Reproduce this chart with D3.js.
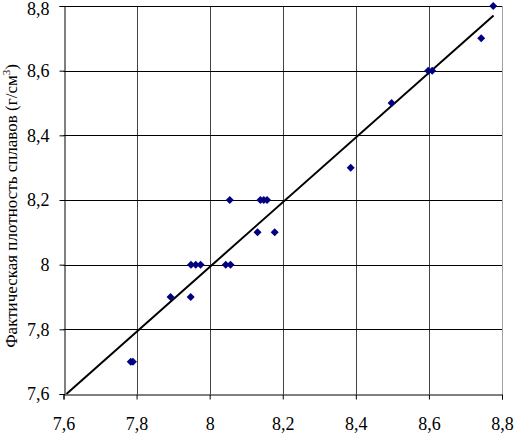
<!DOCTYPE html>
<html><head><meta charset="utf-8">
<script src="https://cdn.jsdelivr.net/npm/d3@7"></script>
<style>body{margin:0;background:#fff}svg{display:block}svg text{font-family:"Times New Roman","Liberation Serif","DejaVu Serif",serif}</style>
</head><body>
<script>
// Data
const calcDensity = [7.784, 7.790, 7.893, 7.948, 7.949, 7.962, 7.975, 8.044, 8.057, 8.131, 8.178, 8.055, 8.139, 8.148, 8.157, 8.386, 8.498, 8.598, 8.609, 8.743, 8.776];
const factDensity = [7.7, 7.7, 7.9, 7.9, 8.0, 8.0, 8.0, 8.0, 8.0, 8.1, 8.1, 8.2, 8.2, 8.2, 8.2, 8.3, 8.5, 8.6, 8.6, 8.7, 8.8];
const trendX = [7.608, 8.777];
const trendY = [7.600, 8.771];
const xTicks = [7.6, 7.8, 8.0, 8.2, 8.4, 8.6, 8.8];
const yTicks = [7.6, 7.8, 8.0, 8.2, 8.4, 8.6, 8.8];
const yTitleMain = "Фактическая плотность сплавов (г/см";
const yTitleSup = "3";
const yTitleEnd = ")";

const W = 515, H = 434;
const m = {left: 63.5, right: 502, top: 6, bottom: 394};
const svg = d3.select("body").append("svg").attr("width", W).attr("height", H);
const x = d3.scaleLinear().domain([7.6, 8.8]).range([m.left, m.right]);
const y = d3.scaleLinear().domain([7.6, 8.8]).range([m.bottom, m.top]);
const fmt = v => d3.format("~g")(+v.toFixed(1)).replace(".", ",");

// vertical gridlines
svg.append("g").selectAll("line").data(xTicks.slice(1)).join("line")
  .attr("x1", d => Math.round(x(d)) + 0.5).attr("x2", d => Math.round(x(d)) + 0.5)
  .attr("y1", m.top).attr("y2", m.bottom)
  .attr("stroke", (d, i, a) => i === a.length - 1 ? "#a0a0a0" : "#444").attr("stroke-width", 1);
// horizontal gridlines
svg.append("g").selectAll("line").data(yTicks.slice(1)).join("line")
  .attr("x1", m.left).attr("x2", m.right)
  .attr("y1", d => Math.round(y(d)) + 0.5).attr("y2", d => Math.round(y(d)) + 0.5)
  .attr("stroke", "#000").attr("stroke-width", 1);

// axes
const xAxis = svg.append("g").attr("transform", `translate(0,${Math.round(m.bottom) + 0.5})`)
  .call(d3.axisBottom(x).tickValues(xTicks).tickFormat(fmt).tickSize(5).tickPadding(18));
const yAxis = svg.append("g").attr("transform", `translate(${Math.round(m.left) + 0.5},0)`)
  .call(d3.axisLeft(y).tickValues(yTicks).tickFormat(fmt).tickSize(5).tickPadding(10));
[xAxis, yAxis].forEach(g => {
  g.attr("font-family", null).attr("font-size", 18);
  g.select(".domain").attr("stroke", "#000");
  g.selectAll(".tick line").attr("stroke", "#000");
  g.selectAll("text").attr("fill", "#000").attr("font-size", 18);
});
// keep the top label inside the picture
yAxis.selectAll(".tick text").filter(d => d === 8.8).attr("dy", "0.45em");

// trend line
svg.append("line")
  .attr("x1", x(trendX[0])).attr("y1", y(trendY[0]))
  .attr("x2", x(trendX[1])).attr("y2", y(trendY[1]))
  .attr("stroke", "#000").attr("stroke-width", 2);

// points
const pts = calcDensity.map((v, i) => [v, factDensity[i]]);
svg.append("g").selectAll("path").data(pts).join("path")
  .attr("transform", d => `translate(${x(d[0])},${y(d[1])})`)
  .attr("d", "M0,-4L4,0L0,4L-4,0Z")
  .attr("fill", "#000080");

// y title
const t = svg.append("text")
  .attr("transform", `translate(17,206) rotate(-90)`)
  .attr("text-anchor", "middle")
  .attr("font-size", 17);
t.append("tspan").text(yTitleMain);
t.append("tspan").attr("font-size", 11).attr("dy", -7).text(yTitleSup);
t.append("tspan").attr("dy", 7).text(yTitleEnd);
</script>
</body></html>
